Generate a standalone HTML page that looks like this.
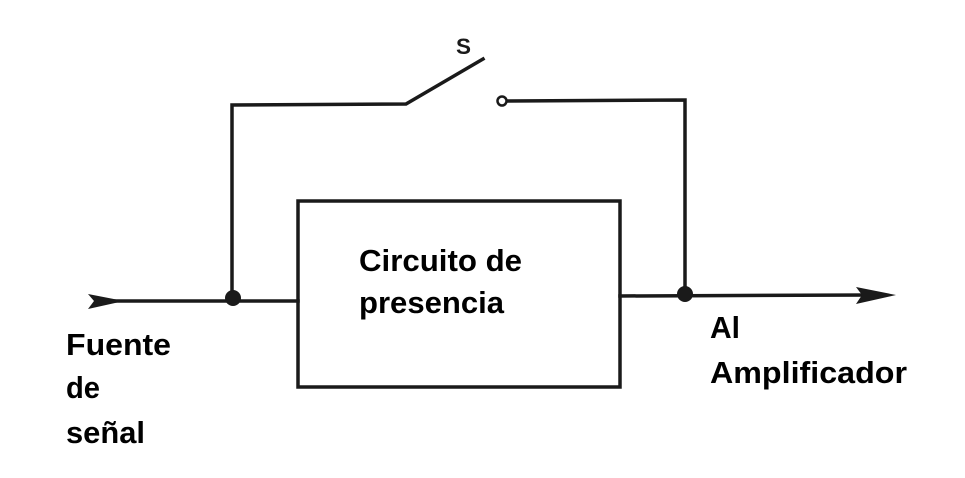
<!DOCTYPE html>
<html><head><meta charset="utf-8"><style>html,body{margin:0;padding:0;background:#fff}</style></head>
<body>
<svg width="965" height="473" viewBox="0 0 965 473" xmlns="http://www.w3.org/2000/svg">
<g stroke="#1a1a1a" stroke-width="3.5" fill="none" stroke-linecap="square">
<polyline points="100,301 298,301"/>
<polyline points="232,301 232,105 406,104 483,59"/>
<polyline points="507,101 685,100 685,295"/>
<rect x="298" y="201" width="322" height="186"/>
<polyline points="620,296 870,295"/>
</g>
<circle cx="502" cy="101" r="4.5" fill="#fff" stroke="#1a1a1a" stroke-width="2.5"/>
<circle cx="233" cy="298" r="8" fill="#1a1a1a"/>
<circle cx="685" cy="294" r="8" fill="#1a1a1a"/>
<polygon points="88,294 124,301 88,309 94,301" fill="#1a1a1a"/>
<polygon points="856,287 896,295 856,304 862,295" fill="#1a1a1a"/>
<text x="456" y="54" font-family="Liberation Sans, sans-serif" font-weight="bold" font-size="22" fill="#1a1a1a" textLength="15" lengthAdjust="spacingAndGlyphs">S</text>
<g font-family="Liberation Sans, sans-serif" font-weight="bold" font-size="31" fill="#000">
<text x="359" y="271" textLength="163" lengthAdjust="spacingAndGlyphs">Circuito de</text>
<text x="359" y="313" textLength="145" lengthAdjust="spacingAndGlyphs">presencia</text>
<text x="66" y="355" textLength="105" lengthAdjust="spacingAndGlyphs">Fuente</text>
<text x="66" y="398" textLength="34" lengthAdjust="spacingAndGlyphs">de</text>
<text x="66" y="443" textLength="79" lengthAdjust="spacingAndGlyphs">señal</text>
<text x="710" y="338" textLength="30" lengthAdjust="spacingAndGlyphs">Al</text>
<text x="710" y="383" textLength="197" lengthAdjust="spacingAndGlyphs">Amplificador</text>
</g>
</svg>
</body></html>
